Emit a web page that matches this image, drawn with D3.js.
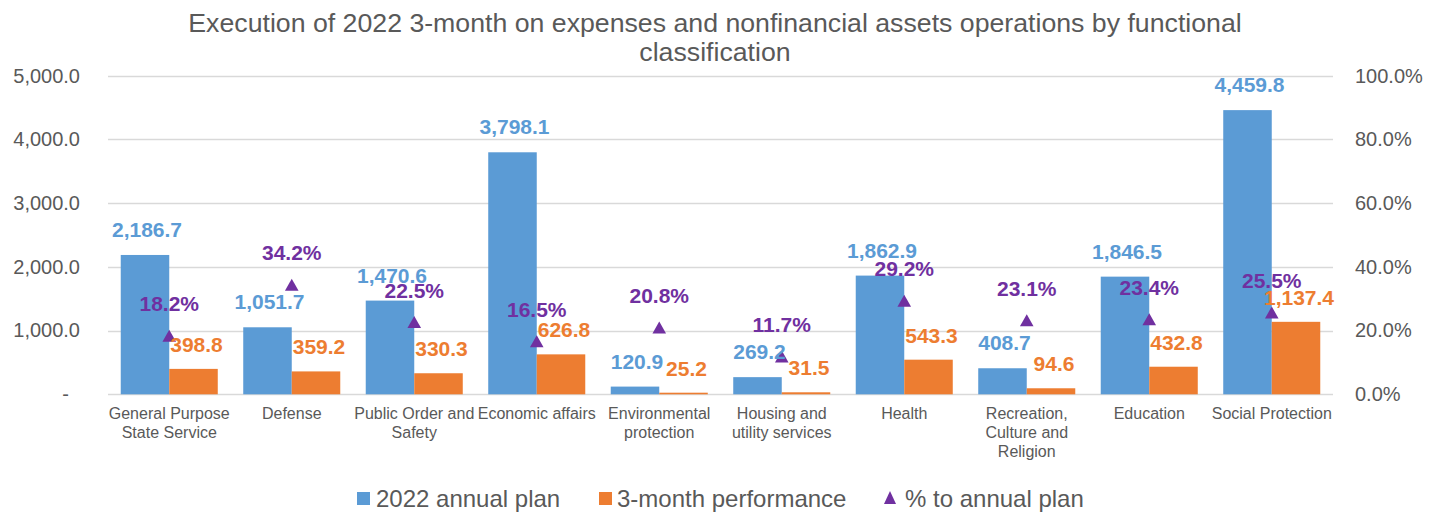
<!DOCTYPE html>
<html>
<head>
<meta charset="utf-8">
<script src="https://cdn.jsdelivr.net/npm/d3@7"></script>
<style>
  html, body { margin: 0; padding: 0; background: #fff; }
  svg { display: block; }
  text { font-family: "Liberation Sans", Arial, sans-serif; }
</style>
</head>
<body>
<svg id="chart" width="1443" height="512"></svg>
<script>
const categories = [
  "General Purpose\nState Service",
  "Defense",
  "Public Order and\nSafety",
  "Economic affairs",
  "Environmental\nprotection",
  "Housing and\nutility services",
  "Health",
  "Recreation,\nCulture and\nReligion",
  "Education",
  "Social Protection"
];
const annualPlan = [2186.7, 1051.7, 1470.6, 3798.1, 120.9, 269.2, 1862.9, 408.7, 1846.5, 4459.8];
const threeMonth = [398.8, 359.2, 330.3, 626.8, 25.2, 31.5, 543.3, 94.6, 432.8, 1137.4];
const pctToPlan = [0.182, 0.342, 0.225, 0.165, 0.208, 0.117, 0.292, 0.231, 0.234, 0.255];
const leftTicks = [0, 1000, 2000, 3000, 4000, 5000];
const rightTicks = [0, 0.2, 0.4, 0.6, 0.8, 1.0];
const seriesNames = ["2022 annual plan", "3-month performance", "% to annual plan"];
const titleLines = [
  "Execution of 2022 3-month on expenses and nonfinancial assets operations by functional",
  "classification"
];

const COLORS = { plan: "#5B9BD5", perf: "#ED7D31", pct: "#7030A0", grid: "#D9D9D9", text: "#595959" };

const svg = d3.select("#chart");
const plotL = 108, plotR = 1333, plotT = 75.7, plotB = 394.3;

const x = d3.scaleBand().domain(categories).range([plotL, plotR]).paddingInner(0.208).paddingOuter(0.104);
const xs = d3.scaleBand().domain(["plan", "perf"]).range([0, x.bandwidth()]).padding(0);
const yL = d3.scaleLinear().domain([0, 5000]).range([plotB, plotT]);
const yR = d3.scaleLinear().domain([0, 1]).range([plotB, plotT]);

// Title
svg.append("g").selectAll("text").data(titleLines).join("text")
  .attr("x", 715).attr("y", (d, i) => 32 + i * 29)
  .attr("text-anchor", "middle").attr("font-size", 26.7).attr("fill", COLORS.text)
  .text(d => d);

// Gridlines
svg.append("g").selectAll("line").data(leftTicks).join("line")
  .attr("x1", plotL).attr("x2", plotR)
  .attr("y1", d => Math.round(yL(d)) + 0.5).attr("y2", d => Math.round(yL(d)) + 0.5)
  .attr("stroke", COLORS.grid).attr("stroke-width", 1.3);

// Left axis
const fmtL = d3.format(",.1f");
const axL = d3.axisLeft(yL).tickValues(leftTicks).tickSize(0).tickPadding(0)
  .tickFormat(d => d === 0 ? "-" : fmtL(d));
const gL = svg.append("g").attr("transform", `translate(80,0)`).call(axL);
gL.select(".domain").remove();
gL.selectAll("text").attr("font-size", 20).attr("fill", COLORS.text)
  .attr("font-family", "Liberation Sans, Arial, sans-serif")
  .attr("dx", d => d === 0 ? -11 : 0);

// Right axis
const axR = d3.axisRight(yR).tickValues(rightTicks).tickSize(0).tickPadding(0)
  .tickFormat(d3.format(".1%"));
const gR = svg.append("g").attr("transform", `translate(1355,0)`).call(axR);
gR.select(".domain").remove();
gR.selectAll("text").attr("font-size", 20).attr("fill", COLORS.text)
  .attr("font-family", "Liberation Sans, Arial, sans-serif");

// Bars
const rows = categories.map((c, i) => ({ c, plan: annualPlan[i], perf: threeMonth[i], pct: pctToPlan[i] }));
const gBars = svg.append("g");
gBars.selectAll("rect.plan").data(rows).join("rect").attr("class", "plan")
  .attr("x", d => x(d.c) + xs("plan")).attr("width", xs.bandwidth())
  .attr("y", d => yL(d.plan)).attr("height", d => yL(0) - yL(d.plan))
  .attr("fill", COLORS.plan);
gBars.selectAll("rect.perf").data(rows).join("rect").attr("class", "perf")
  .attr("x", d => x(d.c) + xs("perf")).attr("width", xs.bandwidth())
  .attr("y", d => yL(d.perf)).attr("height", d => yL(0) - yL(d.perf))
  .attr("fill", COLORS.perf);

// Category labels
const gCat = svg.append("g");
rows.forEach(d => {
  const t = gCat.append("text").attr("text-anchor", "middle").attr("font-size", 16)
    .attr("fill", COLORS.text).attr("y", 419);
  d.c.split("\n").forEach((line, i) => {
    t.append("tspan").attr("x", x(d.c) + x.bandwidth() / 2).attr("dy", i === 0 ? 0 : 19).text(line);
  });
});

// Markers
const tri = "M0,-6.5L6.8,5.5L-6.8,5.5Z";
svg.append("g").selectAll("path").data(rows).join("path")
  .attr("d", tri)
  .attr("transform", d => `translate(${x(d.c) + x.bandwidth() / 2},${yR(d.pct)})`)
  .attr("fill", COLORS.pct);

// Data labels
const gLab = svg.append("g").attr("font-weight", "bold").attr("font-size", 21);
gLab.selectAll("text.pl").data(rows).join("text").attr("class", "pl")
  .attr("x", d => x(d.c) + xs("plan") + xs.bandwidth() / 2 + 2)
  .attr("y", d => yL(d.plan) - 18)
  .attr("text-anchor", "middle").attr("fill", COLORS.plan)
  .text(d => fmtL(d.plan));
gLab.selectAll("text.pf").data(rows).join("text").attr("class", "pf")
  .attr("x", d => x(d.c) + xs("perf") + xs.bandwidth() / 2 + 3)
  .attr("y", d => yL(d.perf) - 17)
  .attr("text-anchor", "middle").attr("fill", COLORS.perf)
  .text(d => fmtL(d.perf));
gLab.selectAll("text.pc").data(rows).join("text").attr("class", "pc")
  .attr("x", d => x(d.c) + x.bandwidth() / 2)
  .attr("y", d => yR(d.pct) - 25)
  .attr("text-anchor", "middle").attr("fill", COLORS.pct)
  .text(d => d3.format(".1%")(d.pct));

// Legend
const gLeg = svg.append("g").attr("font-size", 24).attr("fill", COLORS.text);
const legItems = [
  { name: seriesNames[0], color: COLORS.plan, type: "rect", mx: 357, tx: 376 },
  { name: seriesNames[1], color: COLORS.perf, type: "rect", mx: 599, tx: 617 },
  { name: seriesNames[2], color: COLORS.pct, type: "tri", mx: 890, tx: 905 }
];
legItems.forEach(it => {
  if (it.type === "rect") {
    gLeg.append("rect").attr("x", it.mx).attr("y", 492).attr("width", 13).attr("height", 13).attr("fill", it.color);
  } else {
    gLeg.append("path").attr("d", "M0,-7L6,6L-6,6Z").attr("transform", `translate(${it.mx},${498})`).attr("fill", it.color);
  }
  gLeg.append("text").attr("x", it.tx).attr("y", 507).text(it.name);
});
</script>
</body>
</html>
